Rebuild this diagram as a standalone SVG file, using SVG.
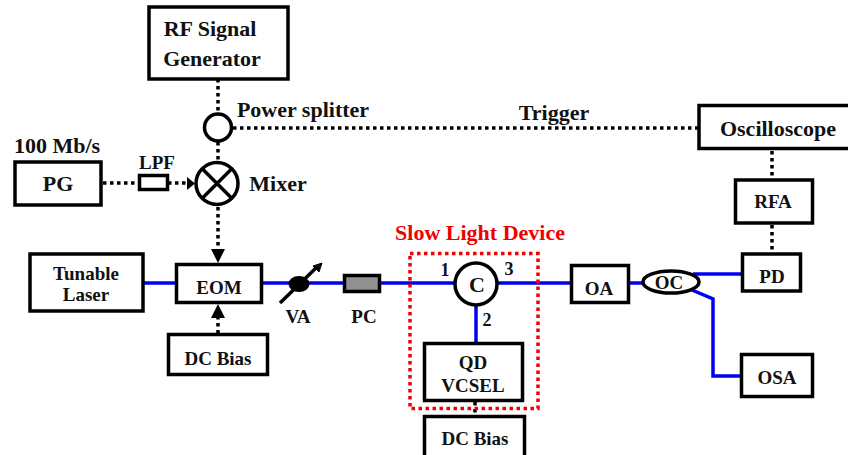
<svg xmlns="http://www.w3.org/2000/svg" width="848" height="455" viewBox="0 0 848 455">
<defs>
<style>
text{font-family:"Liberation Serif","Times New Roman",serif;font-weight:bold;fill:#111;text-anchor:middle}
.box{fill:#fff;stroke:#000;stroke-width:3.5}
.blue{fill:none;stroke:#0000f0;stroke-width:3.5}
.dot{fill:none;stroke:#000;stroke-width:3.5;stroke-dasharray:3.5 3.5}
.t22{font-size:22px}.t19{font-size:19px}.t18{font-size:18px}
</style>
</defs>
<g id="connectors">
<path class="blue" d="M143 283H176M262 283H343M381 283H571M629 283H642"/>
<path class="blue" d="M476 305V343"/>
<path class="blue" d="M693 274H742"/>
<path class="blue" d="M692 290L713 299V376H741"/>
<path class="dot" d="M218 79V113"/>
<path class="dot" d="M218 142V161"/>
<path class="dot" d="M233 128H698"/>
<path class="dot" d="M103 183H139"/>
<path class="dot" d="M168 183H187"/>
<path d="M187 177L195 183.500L187 190Z" fill="#000"/>
<path class="dot" d="M218 207V252"/>
<path d="M211 249H225L218 263Z" fill="#000"/>
<path class="dot" d="M218 316V334"/>
<path d="M211 318H225L218 304Z" fill="#000"/>
<path class="dot" d="M772 151V179"/>
<path class="dot" d="M772 225V253"/>
<path class="dot" d="M475 402V416"/>
</g>
<g id="rf-generator"><rect class="box" x="149" y="7" width="139" height="72"/><text class="t22" x="210" y="36">RF Signal</text><text class="t22" x="212" y="66">Generator</text></g>
<g id="power-splitter"><circle class="box" cx="218" cy="127.500" r="13.500"/><text class="t22" x="303" y="117">Power splitter</text></g>
<g id="trigger"><text class="t22" x="554" y="120">Trigger</text></g>
<g id="mixer"><circle class="box" cx="217" cy="183.500" r="21"/><path d="M202 168.500L232 198.500M232 168.500L202 198.500" stroke="#000" stroke-width="3.500"/><text class="t22" x="278" y="191">Mixer</text></g>
<g id="pg"><rect class="box" x="15" y="162" width="86" height="43"/><text class="t22" x="58" y="191">PG</text><text class="t22" x="57" y="153">100 Mb/s</text></g>
<g id="lpf"><rect class="box" x="139.500" y="175.500" width="28" height="14"/><text class="t19" x="157" y="169">LPF</text></g>
<g id="laser"><rect class="box" x="30" y="254" width="113" height="57"/><text class="t19" x="86" y="280">Tunable</text><text class="t19" x="86" y="301">Laser</text></g>
<g id="eom"><rect class="box" x="176.500" y="264.500" width="85" height="38"/><text class="t19" x="219" y="294">EOM</text></g>
<g id="dc-bias-1"><rect class="box" x="168.500" y="334.500" width="99" height="40"/><text class="t19" x="218" y="365">DC Bias</text></g>
<g id="va"><ellipse cx="299" cy="284" rx="10.500" ry="8" fill="#000"/><path d="M280 303L317 267" stroke="#000" stroke-width="3.500"/><path d="M322 263L313 266L319 272Z" fill="#000" stroke="#000"/><text class="t19" x="298" y="323">VA</text></g>
<g id="pc"><rect x="344.500" y="275.500" width="35" height="16" fill="#909090" stroke="#000" stroke-width="3.500"/><text class="t19" x="364" y="323">PC</text></g>
<g id="slow-light"><rect x="410" y="253.500" width="128" height="155" fill="none" stroke="#f00000" stroke-width="3.500" stroke-dasharray="3.500 3.500"/><text x="480" y="240" style="fill:#f00000;font-size:22px">Slow Light Device</text></g>
<g id="circulator"><circle class="box" cx="476" cy="284" r="21"/><text class="t22" x="477" y="292">C</text><text class="t18" x="445" y="276">1</text><text class="t18" x="509" y="275">3</text><text class="t18" x="487" y="326">2</text></g>
<g id="vcsel"><rect class="box" x="424.500" y="343.500" width="98" height="57"/><text class="t19" x="473" y="369">QD</text><text class="t19" x="473" y="392">VCSEL</text></g>
<g id="dc-bias-2"><rect class="box" x="424.500" y="416.500" width="100" height="42"/><text class="t19" x="475" y="445">DC Bias</text></g>
<g id="oa"><rect class="box" x="571.500" y="265.500" width="57" height="37"/><text class="t19" x="599" y="295">OA</text></g>
<g id="oc"><ellipse class="box" cx="671" cy="282" rx="28" ry="11"/><text class="t19" x="669" y="289">OC</text></g>
<g id="pd"><rect class="box" x="742.500" y="254" width="58" height="37"/><text class="t19" x="772" y="283">PD</text></g>
<g id="osa"><rect class="box" x="741.500" y="354.500" width="71" height="42"/><text class="t19" x="777" y="384">OSA</text></g>
<g id="rfa"><rect class="box" x="735.500" y="180" width="77" height="43"/><text class="t19" x="773" y="208">RFA</text></g>
<g id="oscilloscope"><rect class="box" x="699" y="105.500" width="152" height="43"/><text class="t22" x="778" y="136">Oscilloscope</text></g>
</svg>
